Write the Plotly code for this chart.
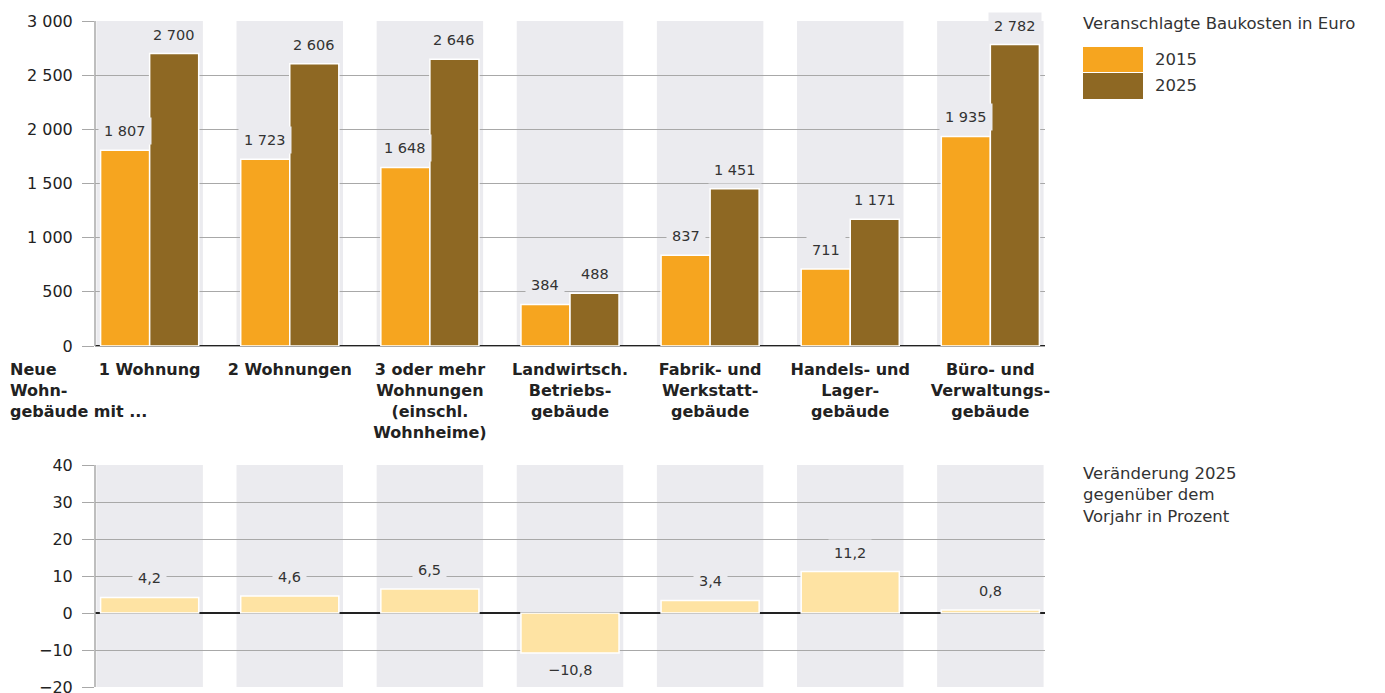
import plotly.graph_objects as go

# ---------------- data ----------------
categories = [
    "1 Wohnung",
    "2 Wohnungen",
    "3 oder mehr<br>Wohnungen<br>(einschl.<br>Wohnheime)",
    "Landwirtsch.<br>Betriebs-<br>gebäude",
    "Fabrik- und<br>Werkstatt-<br>gebäude",
    "Handels- und<br>Lager-<br>gebäude",
    "Büro- und<br>Verwaltungs-<br>gebäude",
]
values_2015 = [1807, 1723, 1648, 384, 837, 711, 1935]
values_2025 = [2700, 2606, 2646, 488, 1451, 1171, 2782]
change_pct = [4.2, 4.6, 6.5, -10.8, 3.4, 11.2, 0.8]
series_names = ["2015", "2025"]
top_ticks = [0, 500, 1000, 1500, 2000, 2500, 3000]
bottom_ticks = [-20, -10, 0, 10, 20, 30, 40]

# ---------------- style ----------------
C2015 = "#f6a51f"
C2025 = "#8e6823"
CCHG = "#fee3a3"
BAND = "#ebebef"
GRID = "#a8a8a8"
TXT = "#222222"
FONT = "DejaVu Sans, Liberation Sans, Arial, sans-serif"

W, H = 1385, 693
OFF = 8  # page body margin
# plot area edges in screen pixels
PL, PR, PT, PB = 95, 1045, 21, 687
ML, MT = PL - OFF, PT - OFF
MR, MB = W - (PR - OFF), H - (PB - OFF)
PW, PH = PR - PL, PB - PT


def px(xs):
    return (xs - PL) / PW


def py(ys):
    return (PB - ys) / PH


BARGAP = 0.3
xpos = list(range(len(categories)))
off = (1 - BARGAP) / 4

fig = go.Figure()
fig.add_trace(go.Bar(x=xpos, y=values_2015, name=series_names[0], marker=dict(color=C2015, line=dict(color="white", width=1.5)),
                     xaxis="x", yaxis="y", hoverinfo="y"))
fig.add_trace(go.Bar(x=xpos, y=values_2025, name=series_names[1], marker=dict(color=C2025, line=dict(color="white", width=1.5)),
                     xaxis="x", yaxis="y", hoverinfo="y"))
fig.add_trace(go.Bar(x=xpos, y=change_pct, name="Veränderung", marker=dict(color=CCHG, line=dict(color="white", width=1.5)),
                     xaxis="x2", yaxis="y2", hoverinfo="y"))

shapes = []
for i in xpos:
    for yr in ("y domain", "y2 domain"):
        xr = "x" if yr == "y domain" else "x2"
        shapes.append(dict(type="rect", xref=xr, yref=yr, x0=i - 0.38, x1=i + 0.38, y0=0, y1=1,
                           fillcolor=BAND, line=dict(width=0), layer="below"))

annotations = []


def fmt_int(v):
    return f"{v:,}".replace(",", " ")


def fmt_pct(v):
    return f"{v:.1f}".replace(".", ",").replace("-", "\u2212")


LBL = dict(family=FONT, size=14.5, color="#333")
for i in xpos:
    for vals, sign in ((values_2015, -1), (values_2025, 1)):
        annotations.append(dict(x=i + sign * off, y=vals[i], xref="x", yref="y", text=fmt_int(vals[i]),
                                showarrow=False, yanchor="bottom", yshift=5, bgcolor=BAND, borderpad=5, font=LBL))
    v = change_pct[i]
    annotations.append(dict(x=i, y=v, xref="x2", yref="y2", text=fmt_pct(v), showarrow=False,
                            yanchor="bottom" if v >= 0 else "top", yshift=5 if v >= 0 else -3,
                            bgcolor=BAND, borderpad=5, font=LBL))

# left label of category axis
annotations.append(dict(xref="paper", yref="paper", x=px(8), y=py(358), xanchor="left", yanchor="top", align="left",
                        text="Neue<br>Wohn-<br>gebäude mit ...", showarrow=False,
                        font=dict(family=FONT, size=16, color=TXT, weight="bold")))

# legend (drawn)
LEG = dict(family=FONT, size=16.5, color="#333")
annotations.append(dict(xref="paper", yref="paper", x=px(1081), y=py(12), xanchor="left", yanchor="top",
                        text="Veranschlagte Baukosten in Euro", showarrow=False, font=LEG))
swatches = [(C2015, 47, 72), (C2025, 73, 99)]
for (col, y0, y1), name in zip(swatches, series_names):
    shapes.append(dict(type="rect", xref="paper", yref="paper", x0=px(1083), x1=px(1143), y0=py(y1), y1=py(y0),
                       fillcolor=col, line=dict(width=0)))
    annotations.append(dict(xref="paper", yref="paper", x=px(1153), y=py((y0 + y1) / 2), xanchor="left",
                            yanchor="middle", text=name, showarrow=False, font=LEG))

annotations.append(dict(xref="paper", yref="paper", x=px(1081), y=py(462), xanchor="left", yanchor="top", align="left",
                        text="Veränderung 2025<br>gegenüber dem<br>Vorjahr in Prozent", showarrow=False, font=LEG))

axis_common = dict(showgrid=True, gridcolor=GRID, gridwidth=1, ticks="outside", ticklen=12, tickcolor=GRID,
                   tickfont=dict(family=FONT, size=16, color=TXT), showline=False, zeroline=True,
                   zerolinecolor="#222", zerolinewidth=2, ticklabelstandoff=6, fixedrange=True, automargin=False)

fig.update_layout(
    width=W, height=H,
    margin=dict(l=ML, r=MR, t=MT, b=MB, autoexpand=False),
    paper_bgcolor="white", plot_bgcolor="white",
    barmode="group", bargap=BARGAP, bargroupgap=0,
    showlegend=False,
    separators=", ",
    font=dict(family=FONT, color=TXT),
    xaxis=dict(domain=[0, 1], range=[-0.39, 6.39], tickvals=xpos, ticktext=categories, showgrid=False,
               ticks="", showline=True, linecolor=GRID, mirror=False, zeroline=False,
               tickfont=dict(family=FONT, size=16, color=TXT, weight="bold"), anchor="y",
               ticklabelstandoff=9, fixedrange=True, automargin=False),
    yaxis=dict(domain=[py(346), 1], range=[0, 3000], tickvals=top_ticks, separatethousands=True,
               anchor="x", **axis_common),
    xaxis2=dict(domain=[0, 1], range=[-0.39, 6.39], showticklabels=False, showgrid=False, ticks="",
                zeroline=False, showline=False, anchor="y2", fixedrange=True, automargin=False),
    yaxis2=dict(domain=[0, py(465)], range=[-20, 40], tickvals=bottom_ticks, anchor="x2", **axis_common),
    shapes=shapes + [
        dict(type="line", xref="paper", yref="paper", x0=0, x1=0, y0=py(346), y1=1, line=dict(color=GRID, width=1.5)),
        dict(type="line", xref="paper", yref="paper", x0=0, x1=0, y0=0, y1=py(465), line=dict(color=GRID, width=1.5)),
    ],
    annotations=annotations,
)

fig.write_html("out.html")
